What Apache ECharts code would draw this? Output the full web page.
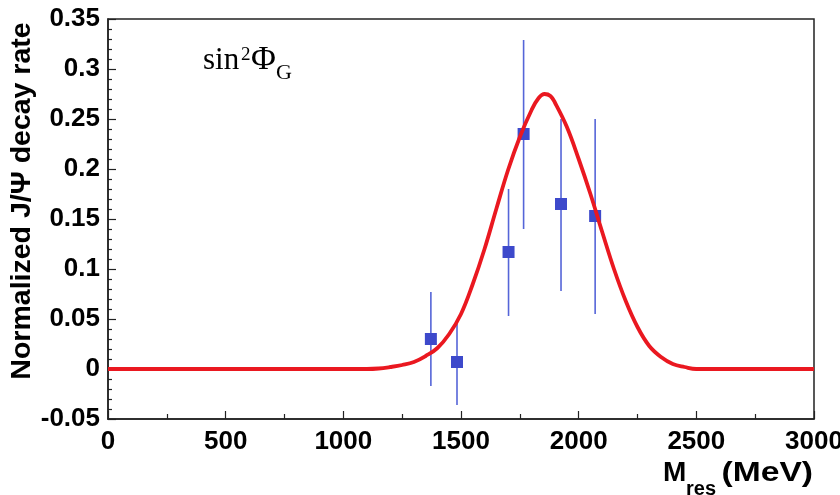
<!DOCTYPE html>
<html>
<head>
<meta charset="utf-8">
<script src="https://cdn.jsdelivr.net/npm/echarts@6/dist/echarts.min.js"></script>
<style>html,body{margin:0;padding:0;background:#fff;}#c{width:840px;height:495px;}</style>
</head>
<body>
<div id="c"></div>
<script>
// Data
const pointMass = [1372, 1483, 1702, 1766, 1925, 2070];
const pointRate = [0.030, 0.007, 0.117, 0.235, 0.165, 0.153];
const errLow    = [-0.017, -0.036, 0.053, 0.140, 0.078, 0.055];
const errHigh   = [0.077, 0.045, 0.180, 0.329, 0.250, 0.250];

const curveMass = [0, 1000, 1100, 1150, 1200, 1250, 1300, 1350, 1400, 1450, 1500, 1550, 1600, 1650, 1700, 1750, 1800, 1830, 1855, 1880, 1900, 1950, 2000, 2050, 2100, 2150, 2200, 2250, 2300, 2350, 2400, 2450, 2500, 2600, 3000];
const curveRate = [0, 0, 0, 0.0005, 0.002, 0.004, 0.007, 0.013, 0.021, 0.035, 0.055, 0.085, 0.120, 0.160, 0.199, 0.232, 0.259, 0.271, 0.275, 0.273, 0.266, 0.242, 0.210, 0.175, 0.137, 0.100, 0.068, 0.042, 0.023, 0.012, 0.005, 0.002, 0, 0, 0];

const xMin = 0, xMax = 3000, xStep = 500;
const yMin = -0.05, yMax = 0.35, yStep = 0.05;

const yTitle = 'Normalized J/\u03A8 decay rate';

const chart = echarts.init(document.getElementById('c'), null, {renderer: 'canvas'});
const sans = 'Liberation Sans, Arial, sans-serif';
const serif = 'Liberation Serif, Times New Roman, serif';

const points = pointMass.map((m, i) => [m, pointRate[i]]);
const errs = pointMass.map((m, i) => [m, errLow[i], errHigh[i]]);
const curve = curveMass.map((m, i) => [m, curveRate[i]]);

chart.setOption({
  animation: false,
  backgroundColor: '#fff',
  grid: {left: 108, right: 26, top: 19, bottom: 76, show: true, borderColor: '#222', borderWidth: 1.5,
    backgroundColor: 'transparent', containLabel: false, outerBoundsMode: 'none'},
  xAxis: {
    type: 'value', min: xMin, max: xMax, interval: xStep,
    axisLine: {show: true, onZero: false, lineStyle: {color: '#222', width: 1.5}},
    axisTick: {show: true, inside: true, length: 8, lineStyle: {color: '#222', width: 1.2}},
    minorTick: {show: true, splitNumber: 2, length: 5, lineStyle: {color: '#222', width: 1.2}},
    splitLine: {show: false},
    axisLabel: {color: '#000', fontSize: 26, fontWeight: 'bold', fontFamily: sans, margin: 10, showMaxLabel: true,
      formatter: v => String(v)}
  },
  yAxis: {
    type: 'value', min: yMin, max: yMax, interval: yStep,
    axisLine: {show: true, onZero: false, lineStyle: {color: '#222', width: 1.5}},
    axisTick: {show: true, inside: true, length: 8, lineStyle: {color: '#222', width: 1.2}},
    minorTick: {show: true, splitNumber: 5, length: 4, lineStyle: {color: '#222', width: 1.2}},
    splitLine: {show: false},
    axisLabel: {color: '#000', fontSize: 26, fontWeight: 'bold', fontFamily: sans, margin: 8,
      formatter: v => String(parseFloat(Number(v).toFixed(2)))}
  },
  series: [
    {
      type: 'custom', z: 2,
      renderItem: (params, api) => {
        const x = api.value(0);
        const p1 = api.coord([x, api.value(1)]);
        const p2 = api.coord([x, api.value(2)]);
        return {type: 'line', shape: {x1: p1[0], y1: p1[1], x2: p2[0], y2: p2[1]},
          style: {stroke: '#5565d8', lineWidth: 1.6}};
      },
      encode: {x: 0, y: [1, 2]},
      data: errs
    },
    {
      type: 'scatter', z: 3, symbol: 'rect', symbolSize: 12,
      itemStyle: {color: '#3d49cb', opacity: 1},
      data: points
    },
    {
      type: 'line', z: 4, smooth: 0.4, showSymbol: false,
      lineStyle: {color: '#ea1820', width: 3.8},
      data: curve
    }
  ],
  graphic: [
    {type: 'text', x: 22, y: 201, rotation: Math.PI / 2,
      style: {text: yTitle, font: 'bold 28.5px ' + sans, fill: '#000', textAlign: 'center', textVerticalAlign: 'middle'}},
    {type: 'text', x: 663, y: 473,
      style: {text: 'M', font: 'bold 28px ' + sans, fill: '#000', textAlign: 'left', textVerticalAlign: 'middle'}},
    {type: 'text', x: 686, y: 489,
      style: {text: 'res', font: 'bold 20px ' + sans, fill: '#000', textAlign: 'left', textVerticalAlign: 'middle'}},
    {type: 'text', x: 813, y: 473, scaleX: 1.2,
      style: {text: '(MeV)', font: 'bold 28px ' + sans, fill: '#000', textAlign: 'right', textVerticalAlign: 'middle'}},
    {type: 'text', x: 203, y: 61,
      style: {text: 'sin', font: '31px ' + serif, fill: '#000', textAlign: 'left', textVerticalAlign: 'middle'}},
    {type: 'text', x: 241, y: 55,
      style: {text: '2', font: '19px ' + serif, fill: '#000', textAlign: 'left', textVerticalAlign: 'middle'}},
    {type: 'text', x: 251, y: 60,
      style: {text: '\u03A6', font: '34px ' + serif, fill: '#000', textAlign: 'left', textVerticalAlign: 'middle'}},
    {type: 'text', x: 276, y: 73,
      style: {text: 'G', font: '22px ' + serif, fill: '#000', textAlign: 'left', textVerticalAlign: 'middle'}}
  ]
});
</script>
</body>
</html>
